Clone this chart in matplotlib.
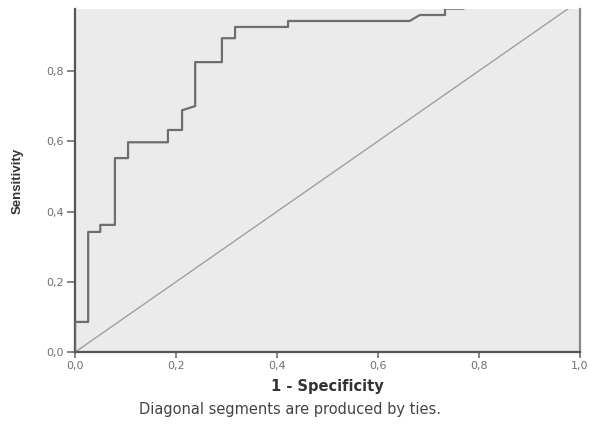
import matplotlib.pyplot as plt
from matplotlib.ticker import FuncFormatter

# ROC curve vertices (1 - specificity, sensitivity)
fpr = [0.0, 0.0, 0.026, 0.026, 0.050, 0.050, 0.079, 0.079, 0.105, 0.105,
       0.184, 0.184, 0.212, 0.212, 0.238, 0.238, 0.291, 0.291, 0.317, 0.317,
       0.422, 0.422, 0.663, 0.683, 0.733, 0.733, 0.770, 0.770, 1.0]
tpr = [0.0, 0.086, 0.086, 0.342, 0.342, 0.362, 0.362, 0.552, 0.552, 0.597,
       0.597, 0.632, 0.632, 0.688, 0.700, 0.825, 0.825, 0.893, 0.893, 0.925,
       0.925, 0.942, 0.942, 0.959, 0.959, 0.977, 0.977, 1.0, 1.0]
ref_x = [0.0, 1.0]
ref_y = [0.0, 1.0]
ticks = [0.0, 0.2, 0.4, 0.6, 0.8, 1.0]

plt.rcParams['font.family'] = ['DejaVu Sans']

fig = plt.figure(figsize=(5.91, 4.30), dpi=100)
ax = fig.add_axes([0.127, 0.181, 0.854, 0.798])
ax.set_facecolor('#ebebeb')

ax.plot(ref_x, ref_y, color='#a0a0a0', lw=1.0, zorder=2)
ax.plot(fpr, tpr, color='#6e6e6e', lw=1.6, zorder=3)

ax.set_xlim(0, 1.0)
ax.set_ylim(0, 0.976)
ax.set_xticks(ticks)
ax.set_yticks(ticks[:-1])
fmt = FuncFormatter(lambda v, p: ('%.1f' % v).replace('.', ','))
ax.xaxis.set_major_formatter(fmt)
ax.yaxis.set_major_formatter(fmt)
ax.tick_params(colors='#707070', labelsize=8, width=1.2, direction='out')
ax.tick_params(axis='x', length=4, pad=2)
ax.tick_params(axis='y', length=6, pad=2)

ax.spines['top'].set_visible(False)
for s in ['left', 'bottom']:
    ax.spines[s].set_color('#555555')
    ax.spines[s].set_linewidth(1.6)
ax.spines['right'].set_color('#8a8a8a')
ax.spines['right'].set_linewidth(1.6)

ax.set_xlabel('1 - Specificity', fontsize=10.5, fontweight='bold', color='#333333', labelpad=6)
ax.set_ylabel('Sensitivity', fontsize=9.5, fontweight='bold', color='#333333', labelpad=16,
              family='Liberation Sans')

fig.text(0.49, 0.037, 'Diagonal segments are produced by ties.', fontsize=10.5,
         color='#444444', ha='center')

fig.savefig('out.png', dpi=100)
